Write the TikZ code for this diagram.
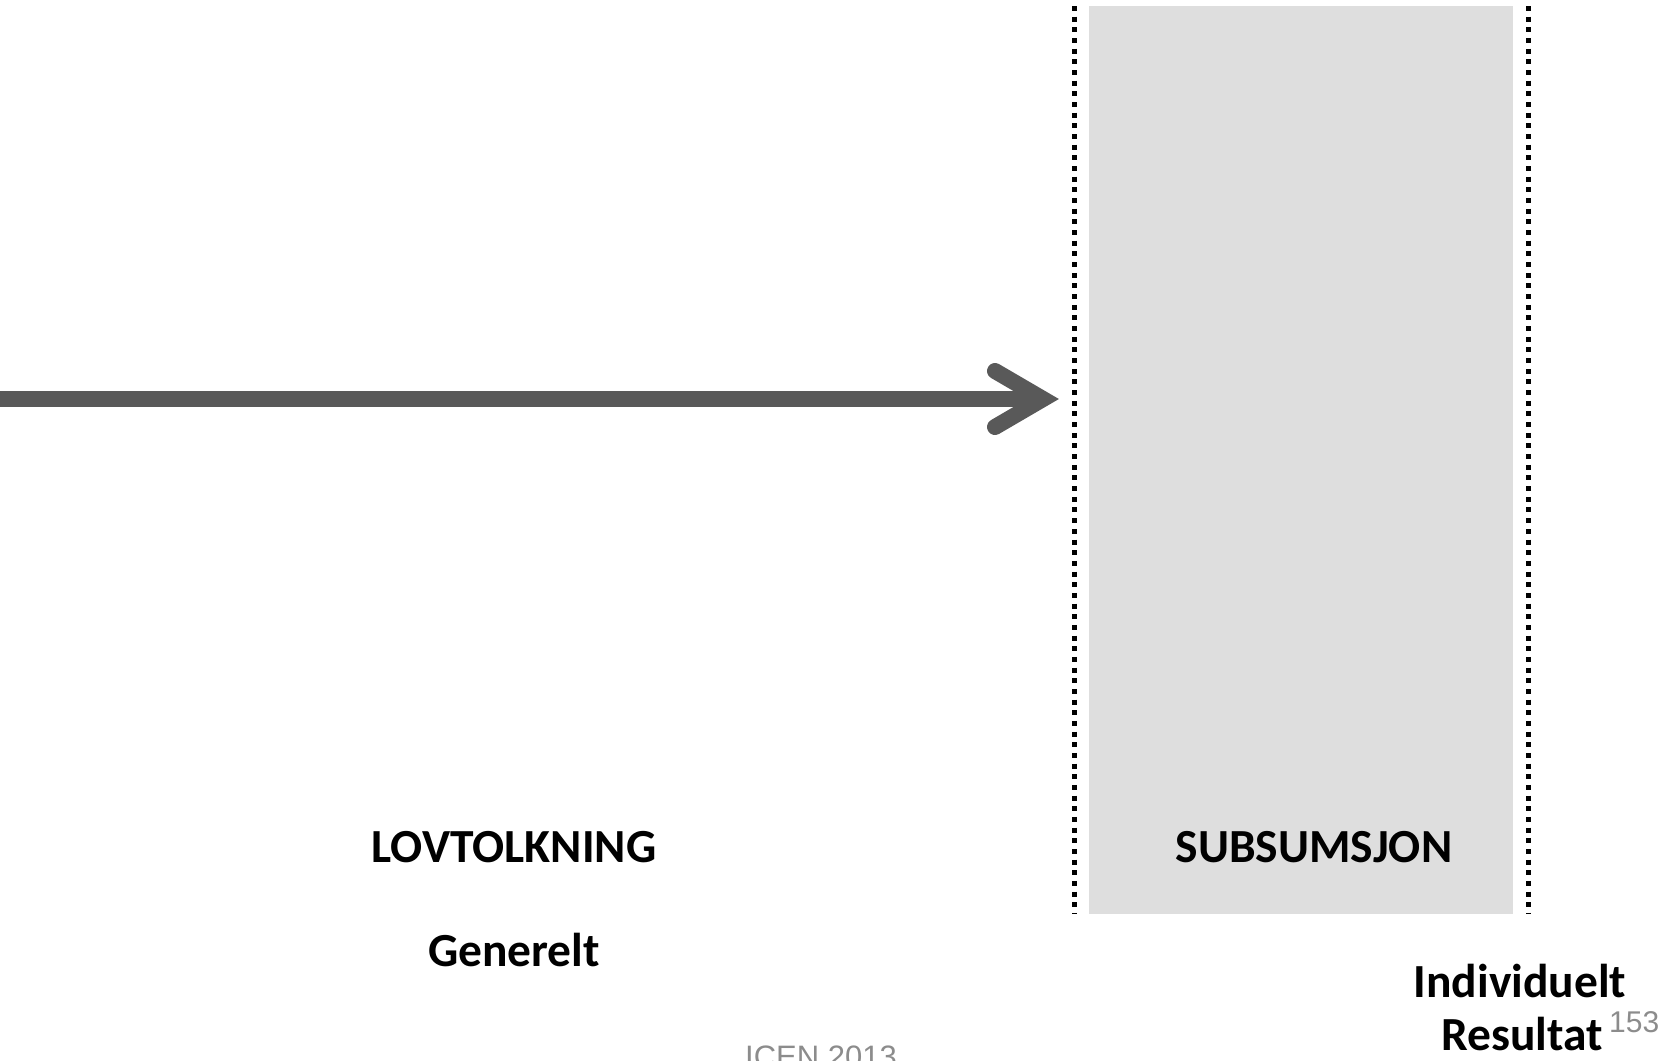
\documentclass[tikz,border=0pt]{standalone}
\usepackage{fontspec}
\setmainfont{Carlito}
\newfontfamily\footfont{Liberation Sans}
\usetikzlibrary{calc}
\definecolor{boxgray}{HTML}{DEDEDE}
\definecolor{arrowgray}{HTML}{595959}
\definecolor{footgray}{HTML}{8C8C8C}
\tikzset{
  dotline/.style={line width=5pt, dash pattern=on 5pt off 5.67pt, black},
  shaft/.style={line width=16pt, arrowgray, line cap=butt},
  chevron/.style={line width=16pt, arrowgray, line cap=round, line join=miter},
  lbl/.style={font=\fontsize{47.5}{53}\selectfont\bfseries, inner sep=0pt, anchor=base},
  foot/.style={font=\footfont\fontsize{30}{34}\selectfont, text=footgray, inner sep=0pt}
}
\begin{document}
\begin{tikzpicture}[x=1pt,y=-1pt]
\useasboundingbox (0,0) rectangle (1662,1060);
\clip (0,0) rectangle (1662,1060);
% grey box
\node[fill=boxgray, minimum width=424pt, minimum height=908pt, inner sep=0pt, anchor=north west] (box) at (1089,6) {};
% dotted separators
\coordinate (dlt) at (1074,6);
\coordinate (dlb) at (1074,914);
\coordinate (drt) at (1528,6);
\coordinate (drb) at (1528,914);
\draw[dotline] (dlt) -- (dlb);
\draw[dotline] (drt) -- (drb);
% arrow
\coordinate (src) at (0,399);
\coordinate (tip) at (1043,399);
\draw[shaft] (src) -- ($(tip)+(-3,0)$);
\draw[chevron] ($(tip)+(-48,-28)$) -- (tip) -- ($(tip)+(-48,28)$);
% labels
\node[lbl] (lov) at (514,862) {LOVTOLKNING};
\node[lbl] (gen) at (514,966) {Generelt};
\node[lbl] (sub) at (1314,862) {SUBSUMSJON};
\node[lbl] (ind) at (1520,997) {Individuelt};
\node[lbl] (res) at (1522,1050) {Resultat};
\node[foot, anchor=base west] (num) at (1609,1032) {153};
\node[foot, font=\footfont\fontsize{31}{36}\selectfont, anchor=base] (icen) at (821,1067) {ICEN 2013};
\end{tikzpicture}
\end{document}
